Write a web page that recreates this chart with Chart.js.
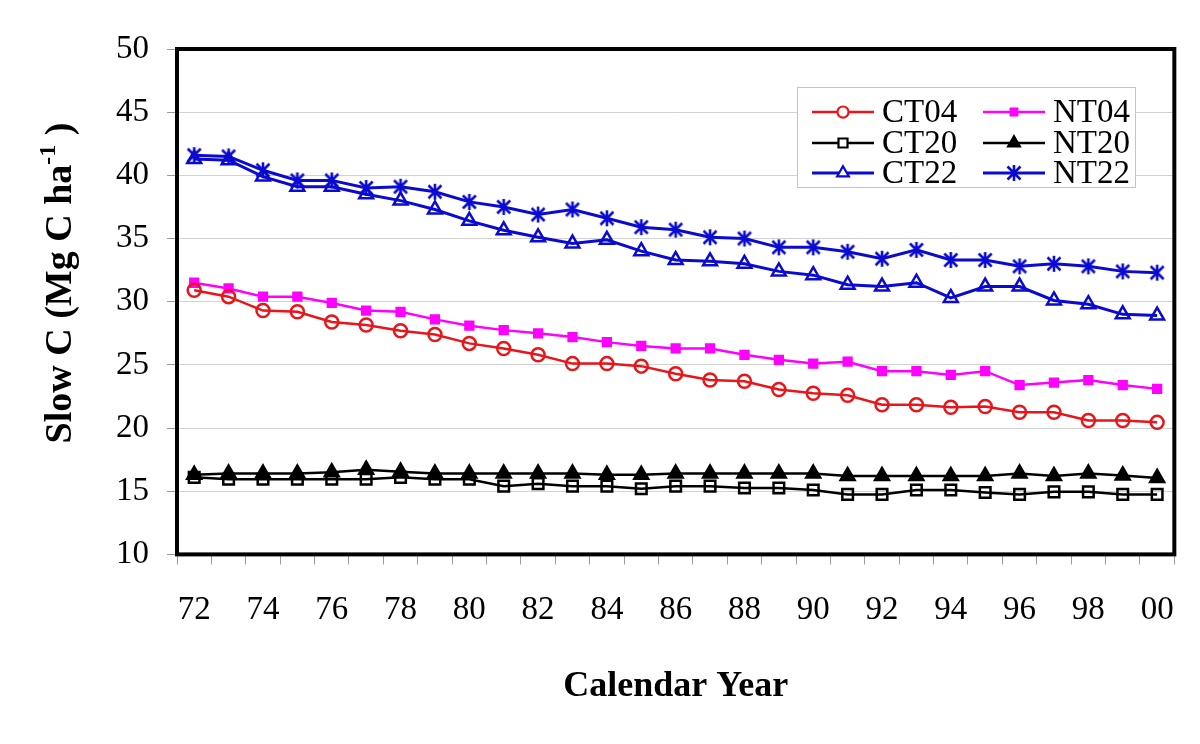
<!DOCTYPE html>
<html>
<head>
<meta charset="utf-8">
<script src="https://cdn.jsdelivr.net/npm/chart.js@4"></script>
<style>
  html, body { margin: 0; padding: 0; background: #fff; }
  #wrap { width: 1200px; height: 744px; }
</style>
</head>
<body>
<div id="wrap"><canvas id="chart1" width="1200" height="744"></canvas></div>
<script>
const years = ['72','73','74','75','76','77','78','79','80','81','82','83','84','85','86',
  '87','88','89','90','91','92','93','94','95','96','97','98','99','00'];

const ct04 = [30.9,30.4,29.3,29.2,28.4,28.15,27.7,27.4,26.7,26.3,25.8,25.1,25.1,24.9,24.3,
  23.8,23.7,23.05,22.75,22.6,21.85,21.85,21.65,21.7,21.25,21.25,20.6,20.6,20.45];
const nt04 = [31.5,31.05,30.4,30.4,29.9,29.3,29.2,28.6,28.1,27.75,27.5,27.2,26.8,26.5,26.3,
  26.3,25.8,25.4,25.1,25.25,24.5,24.5,24.2,24.5,23.4,23.6,23.8,23.4,23.1];
const ct20 = [16.1,15.95,15.95,15.95,15.95,15.95,16.1,15.95,15.95,15.4,15.6,15.4,15.4,15.2,15.4,
  15.4,15.25,15.25,15.1,14.75,14.75,15.1,15.1,14.9,14.75,14.95,14.95,14.75,14.75];
const nt20 = [16.3,16.4,16.4,16.4,16.5,16.7,16.55,16.4,16.4,16.4,16.4,16.4,16.3,16.3,16.4,
  16.4,16.4,16.4,16.4,16.2,16.2,16.2,16.2,16.2,16.4,16.2,16.4,16.25,16.05];
const ct22 = [41.3,41.2,39.9,39.1,39.1,38.5,38.0,37.3,36.4,35.65,35.1,34.6,34.9,34.0,33.3,
  33.2,33.0,32.4,32.1,31.35,31.2,31.5,30.3,31.2,31.2,30.1,29.8,29.0,28.9];
const nt22 = [41.6,41.5,40.4,39.6,39.6,39.0,39.1,38.7,37.9,37.5,36.9,37.3,36.6,35.9,35.7,
  35.1,35.0,34.3,34.3,33.95,33.4,34.1,33.3,33.3,32.8,33.0,32.8,32.4,32.3];

const yTicks = [10, 15, 20, 25, 30, 35, 40, 45, 50];

const RED = '#e8161b';
const BLUE = '#0a0ad0';
const MAGENTA = '#ff00ff';
const BLACK = '#000000';

// six-armed asterisk marker
function makeAsterisk(color) {
  const c = document.createElement('canvas');
  c.width = 20; c.height = 20;
  const g = c.getContext('2d');
  g.strokeStyle = color;
  g.lineWidth = 2.6;
  g.beginPath();
  g.moveTo(10, 2); g.lineTo(10, 18);
  g.moveTo(3.5, 3.5); g.lineTo(16.5, 16.5);
  g.moveTo(16.5, 3.5); g.lineTo(3.5, 16.5);
  g.stroke();
  return c;
}
const asterisk = makeAsterisk(BLUE);

function series(label, data, color, style, radius, filled, lw) {
  return {
    label: label,
    data: data,
    borderColor: color,
    backgroundColor: filled ? color : '#ffffff',
    borderWidth: lw,
    pointStyle: style,
    pointRadius: radius,
    pointHoverRadius: radius,
    pointBorderColor: color,
    pointBackgroundColor: filled ? color : 'rgba(255,255,255,0)',
    pointBorderWidth: 2.5,
    tension: 0,
    fill: false
  };
}

const boxPlugin = {
  id: 'boxPlugin',
  afterDatasetsDraw(chart) {
    const ctx = chart.ctx;
    const a = chart.chartArea;
    ctx.save();
    ctx.strokeStyle = '#000';
    ctx.lineWidth = 4;
    ctx.strokeRect(a.left, a.top, a.right - a.left, a.bottom - a.top);

    // legend
    const lx = 797, ly = 87, lw = 338, lh = 100;
    ctx.fillStyle = '#fff';
    ctx.fillRect(lx, ly, lw, lh);
    ctx.strokeStyle = '#c4c4c4';
    ctx.lineWidth = 1;
    ctx.strokeRect(lx + 0.5, ly + 0.5, lw, lh);
    const cols = [812, 983];
    const rows = [112, 143, 173];
    const order = [0, 2, 4, 1, 3, 5];
    ctx.font = '33px "Liberation Serif", "Times New Roman", serif';
    ctx.textBaseline = 'middle';
    ctx.textAlign = 'left';
    order.forEach((di, k) => {
      const ds = chart.data.datasets[di];
      const x0 = cols[Math.floor(k / 3)];
      const y0 = rows[k % 3];
      ctx.strokeStyle = ds.borderColor;
      ctx.lineWidth = ds.borderWidth;
      ctx.beginPath();
      ctx.moveTo(x0, y0);
      ctx.lineTo(x0 + 62, y0);
      ctx.stroke();
      const opts = {
        pointStyle: ds.pointStyle,
        radius: ds.pointRadius * 0.85,
        borderWidth: 2.2,
        rotation: 0
      };
      ctx.strokeStyle = ds.pointBorderColor;
      ctx.fillStyle = ds.pointBackgroundColor === 'rgba(255,255,255,0)' ? '#fff' : ds.pointBackgroundColor;
      ctx.lineWidth = 2.2;
      Chart.helpers.drawPoint(ctx, opts, x0 + 31, y0);
      ctx.fillStyle = '#000';
      ctx.fillText(ds.label, x0 + 70, y0 + 1);
    });

    // axis titles
    ctx.fillStyle = '#000';
    ctx.textAlign = 'center';
    ctx.textBaseline = 'middle';
    ctx.font = 'bold 36px "Liberation Serif", "Times New Roman", serif';
    ctx.fillText('Calendar Year', (a.left + a.right) / 2, 687);

    ctx.save();
    ctx.translate(58, 283);
    ctx.rotate(-Math.PI / 2);
    const big = 'bold 38px "Liberation Serif", "Times New Roman", serif';
    const small = 'bold 24px "Liberation Serif", "Times New Roman", serif';
    const p1 = 'Slow C (Mg C ha', p2 = '-1', p3 = ' )';
    ctx.font = big; const w1 = ctx.measureText(p1).width; const w3 = ctx.measureText(p3).width;
    ctx.font = small; const w2 = ctx.measureText(p2).width;
    let x = -(w1 + w2 + w3) / 2;
    ctx.textAlign = 'left';
    ctx.textBaseline = 'alphabetic';
    ctx.font = big; ctx.fillText(p1, x, 13); x += w1;
    ctx.font = small; ctx.fillText(p2, x, -3); x += w2;
    ctx.font = big; ctx.fillText(p3, x, 13);
    ctx.restore();
    ctx.restore();
  }
};

renderChart();

function renderChart() {
  const ctx1 = document.getElementById('chart1');

  new Chart(ctx1, {
    type: 'line',
    data: {
      labels: years,
      datasets: [
        series('CT04', ct04, RED, 'circle', 6.5, false, 2.5),
        series('NT04', nt04, MAGENTA, 'rect', 5.5, true, 2.5),
        series('CT20', ct20, BLACK, 'rect', 7.5, false, 2.5),
        series('NT20', nt20, BLACK, 'triangle', 8, true, 2.5),
        series('CT22', ct22, BLUE, 'triangle', 8, false, 3),
        series('NT22', nt22, BLUE, asterisk, 10, false, 3)
      ]
    },
    options: {
      responsive: false,
      animation: false,
      events: [],
      layout: { padding: { left: 98, right: 21, top: 49, bottom: 88 } },
      plugins: {
        legend: { display: false },
        tooltip: { enabled: false }
      },
      scales: {
        x: {
          offset: true,
          grid: {
            offset: true,
            drawOnChartArea: false,
            drawTicks: true,
            tickLength: 10,
            color: '#9a9a9a'
          },
          border: { display: false },
          ticks: {
            autoSkip: false,
            maxRotation: 0,
            padding: 26,
            color: '#000',
            font: { family: '"Liberation Serif", "Times New Roman", serif', size: 33 },
            callback: (v, i) => (i % 2 === 0 ? years[i] : '')
          }
        },
        y: {
          min: yTicks[0],
          max: yTicks[yTicks.length - 1],
          afterBuildTicks: (s) => { s.ticks = yTicks.map(v => ({ value: v })); },
          grid: {
            color: '#d2d2d2',
            tickColor: '#9a9a9a',
            lineWidth: 1,
            tickLength: 10,
            drawTicks: true
          },
          border: { display: false },
          ticks: {
            padding: 18,
            color: '#000',
            font: { family: '"Liberation Serif", "Times New Roman", serif', size: 33 }
          }
        }
      }
    },
    plugins: [boxPlugin]
  });
}
</script>
</body>
</html>
